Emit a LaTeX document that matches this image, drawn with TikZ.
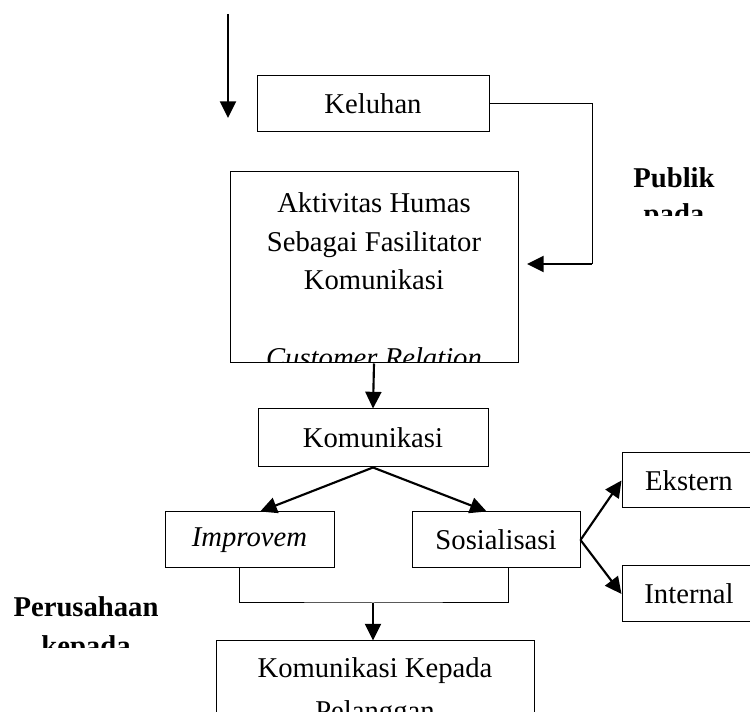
\documentclass[tikz,border=0pt]{standalone}
\usepackage{fontspec}
\setmainfont{Liberation Serif}
\usetikzlibrary{arrows.meta}

\begin{document}
\begin{tikzpicture}[x = 0.75pt, y = -0.75pt, font = \fontsize{21.5}{29}\selectfont,
	kotak/.style = {draw, line width = 0.75pt, inner sep = 0pt},
	tipis/.style = {line width = 0.75pt},
	panah/.style = {line width = 1.6pt, -{Triangle[length = 12.5pt, width = 12pt]}}]
	\useasboundingbox (0,0) rectangle (750,712);
	\clip (0,0) rectangle (750,712);

	\node[kotak, minimum width = 174pt, minimum height = 42pt] (keluhan) at (373,104) {Keluhan};
	\node[kotak, minimum width = 216pt, minimum height = 143.25pt] (aktivitas) at (374,267.5) {};
	\node[kotak, minimum width = 172.5pt, minimum height = 43.5pt] (komunikasi) at (373,438) {Komunikasi};
	\node[kotak, minimum width = 126.75pt, minimum height = 42pt] (improvem) at (249.5,540) {\textit{Improvem}};
	\node[kotak, minimum width = 126pt, minimum height = 42pt] (sosialisasi) at (496,540) {Sosialisasi};
	\node[kotak, minimum width = 100.5pt, minimum height = 41.25pt] (ekstern) at (689,480.5) {Ekstern};
	\node[kotak, minimum width = 100.5pt, minimum height = 42pt] (internal) at (689,594) {Internal};
	\node[kotak, minimum width = 238.5pt, minimum height = 90pt] (kepada) at (375,701) {};

	\begin{scope}
		\clip (aktivitas.north west) rectangle ([yshift = 1.5pt]aktivitas.south east);
		\node[align = center] (aktivitasteks) at (374,280) {Aktivitas Humas\\Sebagai Fasilitator\\Komunikasi\\[29pt]\textit{Customer Relation}};
	\end{scope}
	\node[align = center, font = \fontsize{21.5}{32}\selectfont] (kepadateks) at (375,692) {Komunikasi Kepada\\Pelanggan};
	\begin{scope}
		\clip (600,140) rectangle (750,216);
		\node[align = center, font = \fontsize{21.5}{27}\selectfont\bfseries] (publik) at (674,199) {Publik\\pada};
	\end{scope}
	\begin{scope}
		\clip (0,580) rectangle (200,648);
		\node[align = center, font = \fontsize{21.5}{29}\selectfont\bfseries] (perusahaan) at (86,629) {Perusahaan\\kepada};
	\end{scope}

	\coordinate (awal) at (228,14);
	\coordinate (akhir) at (228,118);
	\coordinate (sudut) at (592,264);
	\coordinate (masuk) at (527,264);
	\coordinate (gabung) at (373,603);
	\draw[panah] (awal) -- (akhir);
	\draw[tipis] (keluhan.east) -| (sudut);
	\draw[panah] (sudut) -- (masuk);
	\draw[panah] (aktivitas.south) -- (komunikasi.north);
	\draw[panah] (komunikasi.south) -- ([xshift = 8pt]improvem.north);
	\draw[panah] (komunikasi.south) -- ([xshift = -7pt]sosialisasi.north);
	\draw[panah] (sosialisasi.east) -- (ekstern.west);
	\draw[panah] (sosialisasi.east) -- (internal.west);
	\draw[tipis] ([xshift = -7.5pt]improvem.south) |- (gabung) -| ([xshift = 9pt]sosialisasi.south);
	\draw[panah] (gabung) -- (gabung |- kepada.north);
\end{tikzpicture}
\end{document}
